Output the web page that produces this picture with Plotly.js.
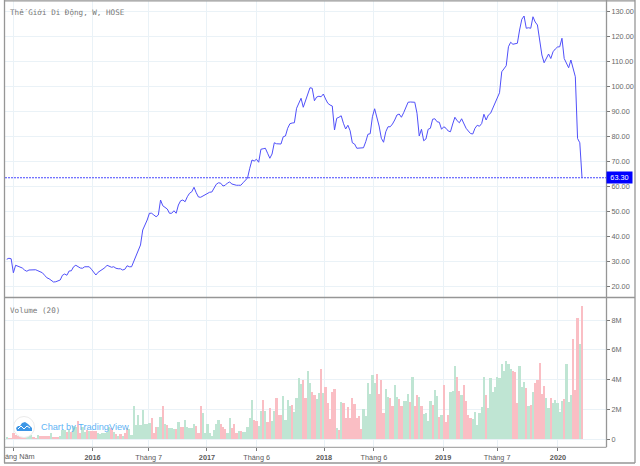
<!DOCTYPE html>
<html><head><meta charset="utf-8">
<script src="https://cdn.plot.ly/plotly-3.0.1.min.js"></script>
<style>html,body{margin:0;padding:0;background:#fff}#c{width:640px;height:466px}</style></head>
<body><div id="c"></div>
<script>
const price=[30.7,31.1,30.9,25.3,28.3,28.0,27.7,27.2,26.4,25.9,26.4,26.5,26.4,26.5,26.1,25.6,25.3,24.3,23.3,22.9,22.1,21.6,21.7,22,22.4,24.3,24.8,24.3,26,26.1,27.7,28.3,27.7,27.2,27.1,27.7,27.7,27.7,26.7,25.3,24.4,25.5,26.1,26.5,27.3,28.3,27.9,27.5,27.7,27.1,26.9,26.9,26.4,26.7,28.1,27.7,27.7,29.7,31.7,33.7,36.4,42.4,44.3,46.4,49.1,49.1,48.4,47.7,48.4,54.4,52.1,51.5,50.8,49.1,49.1,50.1,49.1,52.4,54.1,54.4,53.7,55.7,57.1,57.7,59.5,57.3,55.6,55.5,56,56.5,57.3,57.5,57.6,59.1,60.7,61.3,61.1,60,60.3,61.2,61.6,60.8,60.5,60.3,60.3,60.3,61.3,62.4,63.2,67.1,70.4,70,70.7,69.5,74.7,74.9,75.1,73.1,71.1,72.8,77.3,76.9,76.8,76.8,79.7,80,83.1,84.9,85.2,85.3,91.1,93.3,95.1,91.5,94.1,97,99.3,99.1,94.1,95.6,95.9,95.7,96.8,94.8,93.1,92.4,92,82.4,87.1,87.5,88.1,85.1,82.8,84.3,82.1,77.3,76.8,75.1,75.1,75.3,75.3,77.7,80.7,80.9,87.7,90.9,87.5,84,79.1,77.5,81.7,83.7,83.7,84.8,86.4,88.4,88.8,87.5,89.3,91.7,93.5,93.6,93.7,93.5,89.1,80,82.7,78.1,78.8,82.7,83.1,86.7,86.9,85.7,85.5,82.7,83.7,83.1,82,81.7,84.8,87.5,86.1,85.3,86.9,84.8,83.1,82,81,80.8,83.1,84.3,83.9,85,88.7,86.4,88.4,89.1,91.1,92.8,95.1,97.3,105.7,107.1,108.1,115.7,117.5,116.7,116.9,117.1,122.4,126.7,128,123.1,123.3,123.1,127.7,125.6,124.4,118.4,112.4,109.3,111,112.8,111,113.7,114.8,115.6,115.7,119.1,111,109,107.3,110.4,107.1,103.7,79,77.3,63.3];
const volumeM=[.15,.1,.1,.4,.3,.2,.15,.15,.15,.2,.25,.3,.15,.1,.3,.25,.25,.25,.25,.25,.45,.15,.15,.15,.2,.65,.65,.5,.6,.5,.9,.8,1.2,.45,.8,.5,.6,.55,.55,.55,.55,.4,.35,.4,.45,.5,.85,.75,.5,.35,.25,.35,.25,.4,.75,.7,.3,2.26,.96,1.65,.95,1.95,1.0,1.05,1.1,1.4,.45,.85,.8,1.5,2.25,1.0,.95,.75,.75,.7,.7,1.15,.85,.85,1.3,.85,.75,.75,1.0,.9,.4,2.25,1.75,.4,1.0,.4,.25,.6,1.0,1.3,1.0,.85,.7,.4,1.4,.75,1.0,.4,.55,.55,.5,.5,.85,1.4,2.65,1.3,1.2,.9,1.9,2.65,1.9,1.15,2.1,1.25,1.9,2.75,1.6,1.6,2.9,1.3,2.65,2.2,2.3,1.85,2.8,4.1,3.7,4.0,2.8,4.6,3.8,3.2,3.0,2.7,3.1,4.7,3.1,3.5,2.45,1.35,3.15,3.35,.75,.65,2.5,2.45,1.45,2.15,1.4,2.8,2.35,1.45,1.55,.7,2.0,1.55,3.75,3.05,4.3,3.8,4.35,3.05,3.95,1.75,3.4,2.85,2.8,2.2,3.65,2.85,2.7,2.25,2.6,2.6,3.05,2.5,4.2,2.25,3.0,2.85,2.2,1.7,1.75,1.25,2.55,2.3,3.3,2.9,1.5,1.6,3.65,1.15,1.6,3.2,3.25,4.9,4.2,3.25,3.0,3.65,2.55,1.65,1.4,1.35,1.85,.95,1.75,2.15,4.2,2.95,2.1,4.1,3.15,3.5,4.15,4.1,5.05,4.6,5.25,5.05,4.7,4.55,4.5,2.4,4.9,3.5,3.85,3.45,2.25,2.3,3.15,3.8,4.0,5.15,3.05,3.6,2.75,2.1,2.75,2.4,2.65,2.45,1.85,2.6,2.7,5.05,2.5,2.95,6.75,3.3,8.15,6.4,8.95];
const volumeUp=("grrrrrrrrg"+"ggrrgrrrrr"+"grrrgggrgr"+"ggrrggrgrr"+"rggggggrgr"+"grgrrggggg"+"gggggrrrgg"+"rgrgggrgrr"+"gggggrrrgg"+"ggggggrrrg"+"grrrgrgggg"+"grrggrgrrg"+"grrrggggrg"+"gggrrggrrg"+"grgrrrrrgr"+"grrrrrrrrr"+"ggggggrrrr"+"ggrrggrrgg"+"grgrrgrggg"+"grggrgrrrg"+"ggrrgrrrrg"+"gggggrgggg"+"gggggggrrr"+"gggrgrgrrr"+"rrggrggggg"+"rgggrrrgr").split("");
const barColors=volumeUp.map(d=>d==="g"?"rgb(191,229,211)":"rgb(250,190,196)");
const weeks=price.map((_,i)=>i);
const lastPrice=63.3;
const xTickPos=[3,38.5,63.7,89.8,112.1,142.3,164.7,195.7,219.9,247.2];
const xTickText=["","<b>2016</b>","Tháng 7","<b>2017</b>","Tháng 6","<b>2018</b>","Tháng 6","<b>2019</b>","Tháng 7","<b>2020</b>"];
const priceTicks=[20,30,40,50,60,70,80,90,100,110,120,130];
const volTicks=[0,2e6,4e6,6e6,8e6];
const volTickText=["0","2M","4M","6M","8M"];
const W=640,H=466,mL=5,mR=34,mT=1,mB=19;
const px=x=>(x-mL)/(W-mL-mR), py=y=>(H-mB-y)/(H-mT-mB);
const line=(x0,y0,x1,y1,c,w)=>({type:"line",xref:"paper",yref:"paper",x0:px(x0),y0:py(y0),x1:px(x1),y1:py(y1),line:{color:c,width:w},layer:"above"});
const frame="rgb(150,150,150)";
const pts=a=>a.map(p=>px(p[0])+","+py(p[1])).join("L");
const cloud="M"+pts([[17,431],[16,428],[18,426],[20,426],[22,423],[25,422],[28,424],[30,426],[32,428],[32,431]])+"Z";
const wave="M"+pts([[18,429],[21,426],[24,429],[27,426],[30,428]]);
const tickFont={family:"Liberation Sans, Arial, sans-serif",size:7.3,color:"rgb(105,105,105)"};
const grid="rgb(234,242,247)";
const data=[
 {type:"bar",x:weeks,y:volumeM.map(v=>v*1e6),xaxis:"x",yaxis:"y2",marker:{color:barColors,line:{width:0}},hoverinfo:"skip"},
 {type:"scatter",mode:"lines",x:weeks,y:price,xaxis:"x",yaxis:"y",line:{color:"rgb(80,80,250)",width:1},hoverinfo:"skip"}
];
const layout={
 width:W,height:H,margin:{l:mL,r:mR,t:mT,b:mB,pad:0},paper_bgcolor:"#fff",plot_bgcolor:"#fff",showlegend:false,bargap:0,hovermode:false,
 xaxis:{anchor:"y2",range:[-0.76,268.75],tickmode:"array",tickvals:xTickPos,ticktext:xTickText,showgrid:true,gridcolor:grid,gridwidth:1,zeroline:false,showline:false,ticks:"outside",ticklen:3,tickcolor:"rgb(120,120,120)",tickfont:{family:tickFont.family,size:7.3,color:"rgb(90,90,90)"}},
 yaxis:{domain:[py(297),1],range:[15.6,134],side:"right",anchor:"x",tickmode:"array",tickvals:priceTicks,ticktext:priceTicks.map(v=>v.toFixed(2)),showgrid:true,gridcolor:grid,gridwidth:1,zeroline:false,showline:false,ticks:"outside",ticklen:3,tickcolor:"rgb(120,120,120)",tickfont:tickFont},
 yaxis2:{domain:[0,py(298)],range:[-0.52e6,9.48e6],side:"right",anchor:"x",tickmode:"array",tickvals:volTicks,ticktext:volTickText,showgrid:true,gridcolor:grid,gridwidth:1,zeroline:false,showline:false,ticks:"outside",ticklen:3,tickcolor:"rgb(120,120,120)",tickfont:tickFont},
 shapes:[
  {type:"line",xref:"paper",yref:"y",x0:0,x1:1,y0:lastPrice,y1:lastPrice,line:{color:"rgb(70,70,255)",width:1,dash:"2px,1px"},layer:"above"},
  line(4.5,0,4.5,463,frame,1.3),line(4,0.8,635,0.8,frame,1.3),line(635,0,635,463,frame,1.3),line(4,463,635,463,frame,1.3),
  line(606.5,0,606.5,447,frame,1.3),line(4,297.5,635,297.5,frame,1.5),line(4,447.3,606.5,447.3,frame,1),
  {type:"circle",xref:"paper",yref:"paper",x0:px(13.5),x1:px(34.5),y0:py(416.5),y1:py(437.5),fillcolor:"#fff",line:{color:"rgb(235,235,235)",width:1},layer:"above"},
  {type:"path",xref:"paper",yref:"paper",path:cloud,fillcolor:"rgb(60,150,230)",line:{width:0},layer:"above"},
  {type:"path",xref:"paper",yref:"paper",path:wave,line:{color:"#fff",width:1},layer:"above"}
 ],
 annotations:[
  {xref:"paper",yref:"paper",x:px(8),y:py(13),xanchor:"left",yanchor:"middle",showarrow:false,text:"Thế Giới Di Động, W, HOSE",font:{family:"DejaVu Sans Mono, monospace",size:7.6,color:"rgb(120,120,120)"}},
  {xref:"paper",yref:"paper",x:px(8),y:py(310),xanchor:"left",yanchor:"middle",showarrow:false,text:"Volume (20)",font:{family:"DejaVu Sans Mono, monospace",size:7.6,color:"rgb(120,120,120)"}},
  {xref:"paper",yref:"paper",x:px(39),y:py(427),xanchor:"left",yanchor:"middle",showarrow:false,text:"Chart by TradingView",font:{family:"Liberation Sans, Arial, sans-serif",size:9.2,color:"rgb(95,180,245)"}},
  {xref:"paper",yref:"paper",x:px(3),y:py(456.5),xanchor:"left",yanchor:"middle",showarrow:false,text:"áng Năm",font:{family:tickFont.family,size:7.3,color:"rgb(90,90,90)"}},
  {xref:"paper",yref:"y",x:1,y:lastPrice,xanchor:"left",yanchor:"middle",showarrow:false,text:"63.30",bgcolor:"rgb(0,0,255)",font:{family:tickFont.family,size:7.3,color:"#fff"},borderpad:1,width:23}
 ]
};
Plotly.newPlot("c",data,layout,{displayModeBar:false,staticPlot:true});
</script></body></html>
